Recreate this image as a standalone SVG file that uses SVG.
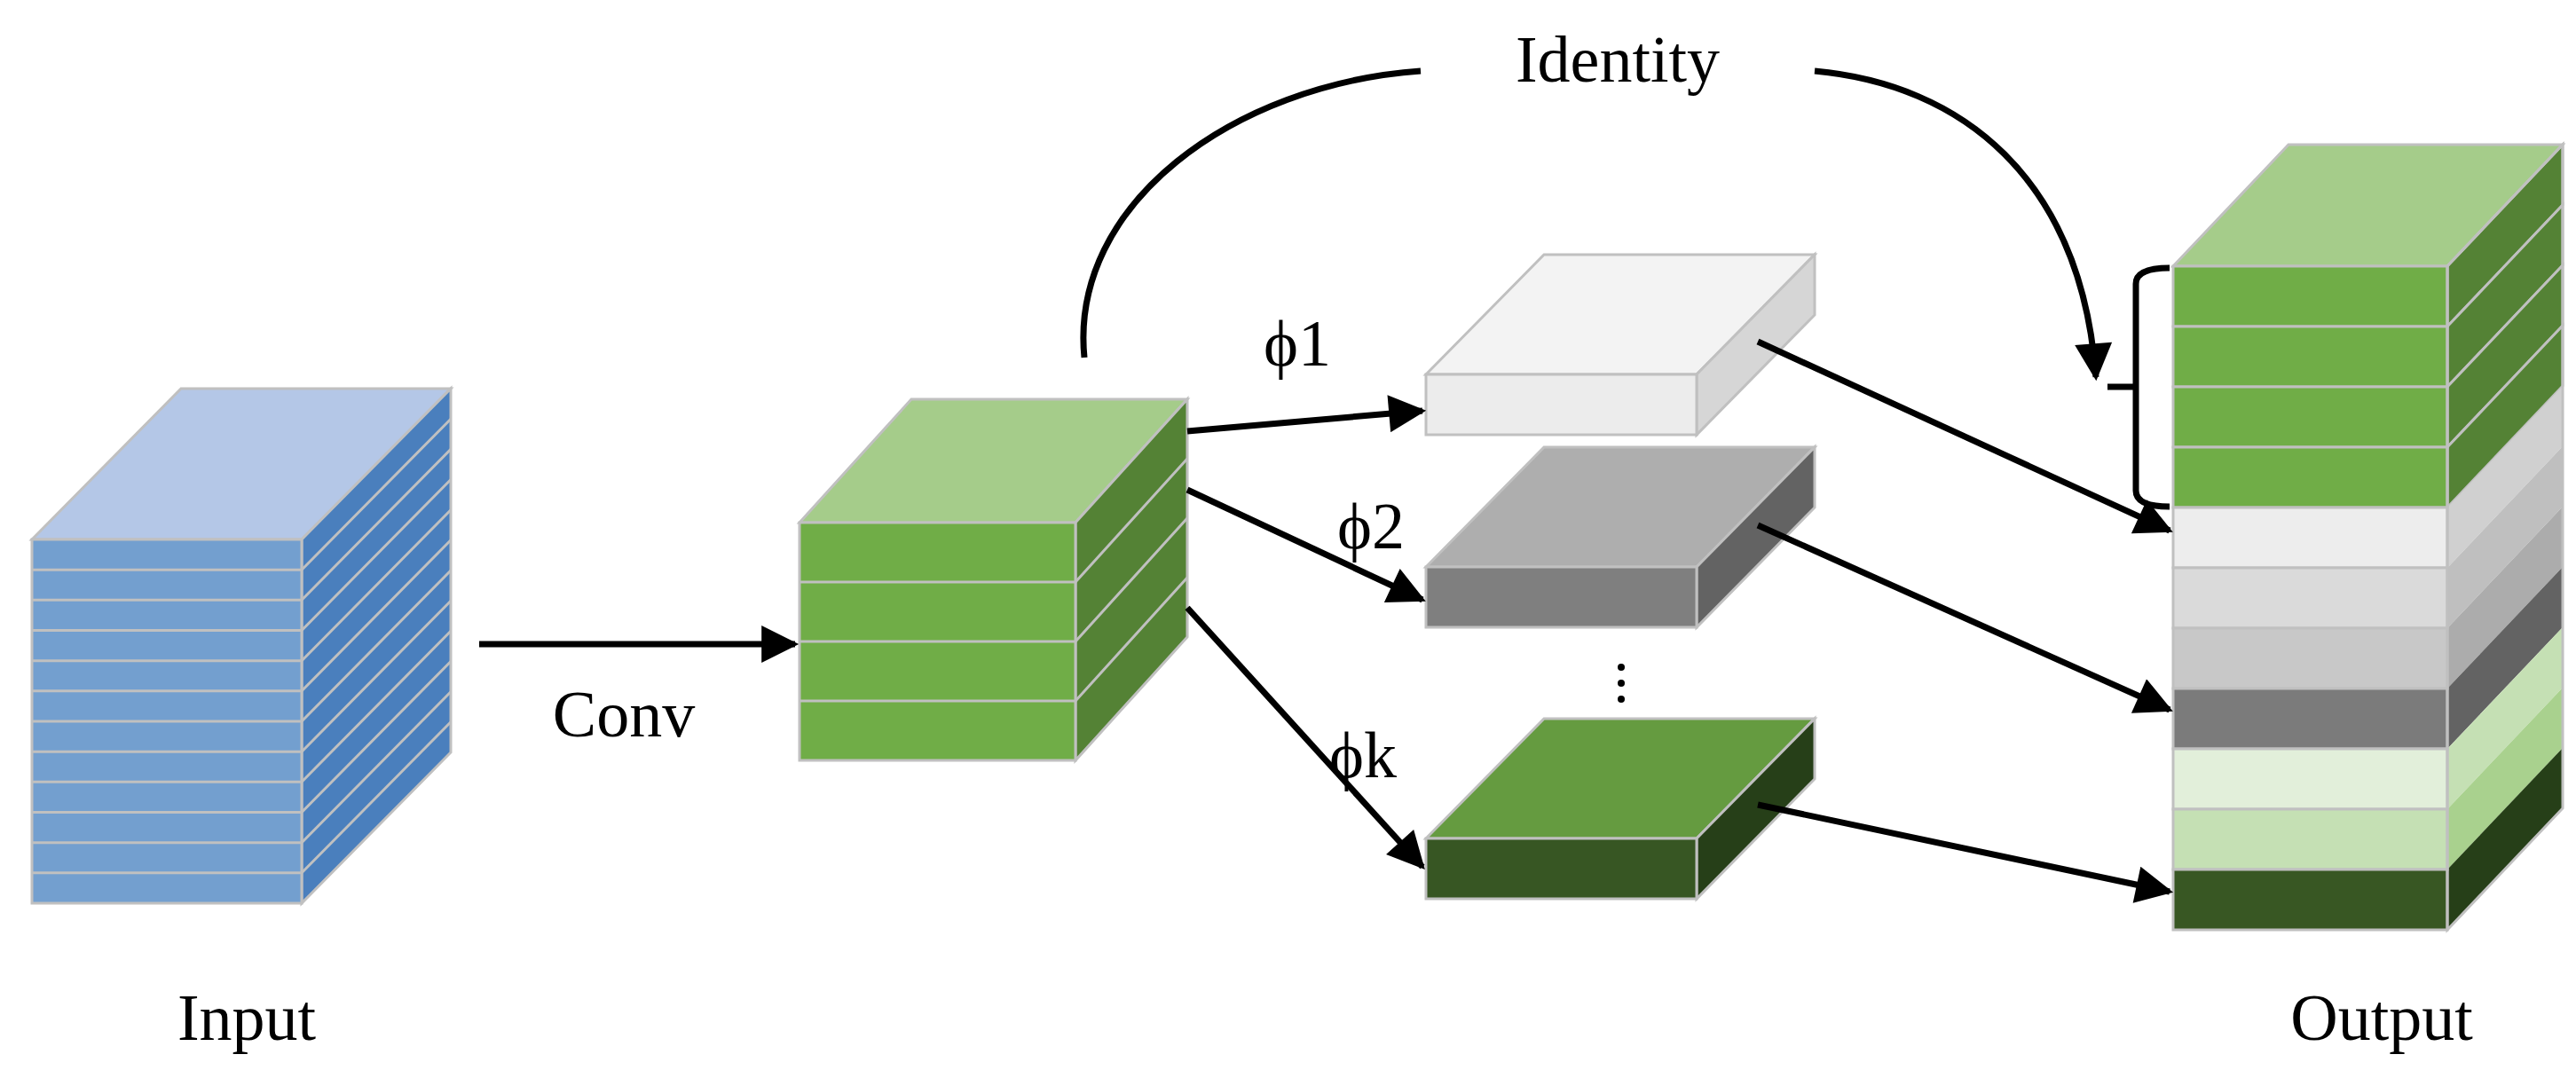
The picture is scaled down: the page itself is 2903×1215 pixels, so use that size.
<svg xmlns="http://www.w3.org/2000/svg" width="2903" height="1215" viewBox="0 0 2903 1215">
<style>
.s{stroke:#c0c0c0;stroke-width:3}
.t{font-family:"Liberation Serif",serif;font-size:74px;fill:#000}
.c{fill:none;stroke:#000;stroke-width:7}
</style>
<defs>
<marker id="ah" viewBox="0 0 10 10" refX="9" refY="5" markerWidth="7" markerHeight="6" markerUnits="strokeWidth" orient="auto"><path d="M0,0L10,5L0,10z" fill="#000"/></marker>
</defs>
<rect width="2903" height="1215" fill="#fff"/>
<g id="input">
<polygon class="s" points="36,608 204,438 508,438 340,608" fill="#b4c7e7"/>
<polygon class="s" points="340,608 508,438 508,848 340,1018" fill="#4a7fbd"/>
<g id="inlayers"></g>
<rect class="s" x="36" y="608" width="304" height="410" fill="#739fcf"/>
<path class="s" fill="none" d="M36,642.2H340M36,676.3H340M36,710.5H340M36,744.7H340M36,778.8H340M36,813H340M36,847.2H340M36,881.3H340M36,915.5H340M36,949.7H340M36,983.8H340M340,642.2L508,472.2M340,676.3L508,506.3M340,710.5L508,540.5M340,744.7L508,574.7M340,778.8L508,608.8M340,813L508,643M340,847.2L508,677.2M340,881.3L508,711.3M340,915.5L508,745.5M340,949.7L508,779.7M340,983.8L508,813.8"/>
</g>
<g id="conv">
<polygon class="s" points="901,589 1027,450 1338,450 1212,589" fill="#a5cc8a"/>
<polygon class="s" points="1212,589 1338,450 1338,718 1212,857" fill="#548235"/>
<rect class="s" x="901" y="589" width="311" height="268" fill="#70ad47"/>
<path class="s" fill="none" d="M901,656H1212M901,723H1212M901,790H1212M1212,656L1338,517M1212,723L1338,584M1212,790L1338,651"/>
</g>
<g id="phi1">
<polygon class="s" points="1607,422 1740,287 2045,287 1912,422" fill="#f3f3f3"/>
<polygon class="s" points="1912,422 2045,287 2045,355 1912,490" fill="#d6d6d6"/>
<rect class="s" x="1607" y="422" width="305" height="68" fill="#ececec"/>
</g>
<g id="phi2">
<polygon class="s" points="1607,639 1740,504 2045,504 1912,639" fill="#aeaeae"/>
<polygon class="s" points="1912,639 2045,504 2045,572 1912,707" fill="#636363"/>
<rect class="s" x="1607" y="639" width="305" height="68" fill="#7f7f7f"/>
</g>
<g id="phik">
<polygon class="s" points="1607,945 1740,810 2045,810 1912,945" fill="#659b40"/>
<polygon class="s" points="1912,945 2045,810 2045,878 1912,1013" fill="#263f18"/>
<rect class="s" x="1607" y="945" width="305" height="68" fill="#375623"/>
</g>
<g id="dots" fill="#000"><circle cx="1827" cy="752" r="4"/><circle cx="1827" cy="770" r="4"/><circle cx="1827" cy="788" r="4"/></g>
<g id="output">
<polygon class="s" points="2449,300 2579,163 2888,163 2758,300" fill="#a5cc8a"/>
<g stroke="#c0c0c0" stroke-width="3">
<polygon points="2758,300 2888,163 2888,231 2758,368" fill="#548235"/>
<polygon points="2758,368 2888,231 2888,299 2758,436" fill="#548235"/>
<polygon points="2758,436 2888,299 2888,367 2758,504" fill="#548235"/>
<polygon points="2758,504 2888,367 2888,435 2758,572" fill="#548235"/>
<polygon points="2758,572 2888,435 2888,503 2758,640" fill="#d0d0d0" stroke="none"/>
<polygon points="2758,640 2888,503 2888,571 2758,708" fill="#bfbfbf" stroke="none"/>
<polygon points="2758,708 2888,571 2888,639 2758,776" fill="#acacac" stroke="none"/>
<polygon points="2758,776 2888,639 2888,707 2758,844" fill="#636363" stroke="none"/>
<polygon points="2758,844 2888,707 2888,775 2758,912" fill="#c5e0b4" stroke="none"/>
<polygon points="2758,912 2888,775 2888,843 2758,980" fill="#a9d18e" stroke="none"/>
<polygon points="2758,980 2888,843 2888,911 2758,1048" fill="#263f18" stroke="none"/>
<rect x="2449" y="300" width="309" height="68" fill="#70ad47"/>
<rect x="2449" y="368" width="309" height="68" fill="#70ad47"/>
<rect x="2449" y="436" width="309" height="68" fill="#70ad47"/>
<rect x="2449" y="504" width="309" height="68" fill="#70ad47"/>
<rect x="2449" y="572" width="309" height="68" fill="#ededed"/>
<rect x="2449" y="640" width="309" height="68" fill="#dadada"/>
<rect x="2449" y="708" width="309" height="68" fill="#c8c8c8"/>
<rect x="2449" y="776" width="309" height="68" fill="#7b7b7b"/>
<rect x="2449" y="844" width="309" height="68" fill="#e2efda"/>
<rect x="2449" y="912" width="309" height="68" fill="#c5e0b4"/>
<rect x="2449" y="980" width="309" height="68" fill="#385723"/>
<polygon points="2758,300 2888,163 2888,911 2758,1048" fill="none"/>
</g>
</g>
<g id="connectors">
<line class="c" x1="540" y1="726" x2="896" y2="726" marker-end="url(#ah)"/>
<line class="c" x1="1338" y1="486" x2="1603" y2="463" marker-end="url(#ah)"/>
<line class="c" x1="1338" y1="552" x2="1603" y2="676" marker-end="url(#ah)"/>
<line class="c" x1="1338" y1="685" x2="1603" y2="977" marker-end="url(#ah)"/>
<line class="c" x1="1981" y1="385" x2="2445" y2="598" marker-end="url(#ah)"/>
<line class="c" x1="1981" y1="592" x2="2445" y2="800" marker-end="url(#ah)"/>
<line class="c" x1="1981" y1="907" x2="2445" y2="1005" marker-end="url(#ah)"/>
<path class="c" d="M1222,403C1205,230 1390,95 1601,80"/>
<path class="c" d="M2045,80C2210,95 2345,200 2362,425" marker-end="url(#ah)"/>
<path class="c" d="M2445,302C2420,302 2407,308 2407,320V553C2407,565 2420,571 2445,571M2375,436H2407"/>
</g>
<g id="labels">
<text class="t" x="1823" y="92" text-anchor="middle">Identity</text>
<text class="t" x="703" y="830" text-anchor="middle">Conv</text>
<text class="t" x="1462" y="412" text-anchor="middle">ϕ1</text>
<text class="t" x="1545" y="618" text-anchor="middle">ϕ2</text>
<text class="t" x="1536" y="876" text-anchor="middle">ϕk</text>
<text class="t" x="278" y="1172" text-anchor="middle">Input</text>
<text class="t" x="2684" y="1172" text-anchor="middle">Output</text>
</g>
</svg>
